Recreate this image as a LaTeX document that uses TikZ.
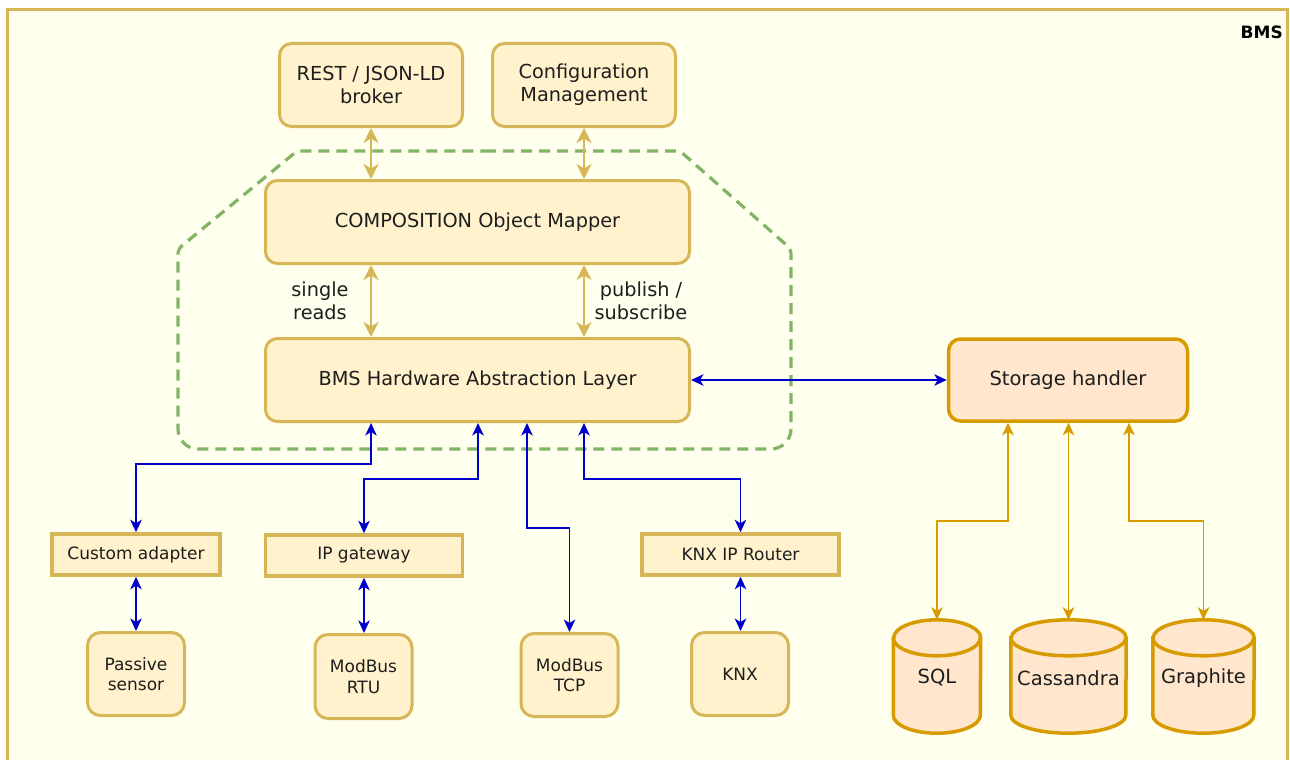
\documentclass[tikz,border=0pt]{standalone}
\usepackage{fontspec}
\setmainfont{DejaVu Sans}
\usetikzlibrary{arrows.meta}

\definecolor{bgpanel}{HTML}{FFFFEE}
\definecolor{ylfill}{HTML}{FFF2CC}
\definecolor{ylline}{HTML}{D6B656}
\definecolor{orfill}{HTML}{FFE6CC}
\definecolor{orline}{HTML}{D79B00}
\definecolor{grline}{HTML}{82B366}
\definecolor{blline}{HTML}{0000CC}
\definecolor{txt}{HTML}{1E1E1E}

\tikzset{
  base/.style={inner sep=0pt, align=center, text=txt},
  mainbox/.style={base, draw=ylline, fill=ylfill, line width=3pt, rounded corners=12pt,
    font=\fontsize{19.3}{23}\selectfont},
  devbox/.style={base, draw=ylline, fill=ylfill, line width=3pt, rounded corners=13pt,
    minimum width=97pt, minimum height=83pt, font=\fontsize{17}{20.5}\selectfont},
  adapter/.style={base, draw=ylline, fill=ylfill, line width=3.5pt,
    minimum height=41pt, font=\fontsize{17}{20.5}\selectfont},
  storebox/.style={base, draw=orline, fill=orfill, line width=3.5pt, rounded corners=12pt,
    font=\fontsize{19.5}{23}\selectfont},
  cylbox/.style={base, minimum height=113pt, font=\fontsize{19.5}{23}\selectfont},
  cylshape/.style={draw=orline, fill=orfill, line width=3.5pt},
  lbl/.style={base, font=\fontsize{19.3}{23}\selectfont},
  ylarrow/.style={draw=ylline, line width=2.8pt,
    {Stealth[length=15pt,width=15pt,inset=4.5pt]}-{Stealth[length=15pt,width=15pt,inset=4.5pt]}},
  blarrow/.style={draw=blline, line width=1.7pt,
    {Stealth[length=12.5pt,width=11.5pt,inset=3.5pt]}-{Stealth[length=12.5pt,width=11.5pt,inset=3.5pt]}},
  orarrow/.style={draw=orline, line width=1.7pt,
    {Stealth[length=12.5pt,width=11.5pt,inset=3.5pt]}-{Stealth[length=12.5pt,width=11.5pt,inset=3.5pt]}},
  groupline/.style={draw=grline, line width=3.2pt, dash pattern=on 11pt off 7pt},
}

% database cylinder drawn on the outline of a named node; #2 = half width
\newcommand\dbcylinder[2]{%
  \path[cylshape] ([yshift=-18pt]#1.north west)
    -- ([yshift=18pt]#1.south west)
    arc[start angle=180, end angle=360, x radius=#2, y radius=18pt]
    -- ([yshift=-18pt]#1.north east)
    arc[start angle=0, end angle=180, x radius=#2, y radius=18pt] -- cycle;
  \draw[draw=orline, line width=3.5pt] ([yshift=-18pt]#1.north west)
    arc[start angle=180, end angle=360, x radius=#2, y radius=18pt];
}

\begin{document}
\begin{tikzpicture}[x=1pt, y=-1pt]
\useasboundingbox (0,0) rectangle (1290,760);

% outer BMS panel
\fill[white] (0,0) rectangle (1290,760);
\fill[bgpanel] (7,10) rectangle (1287,760);
\draw[ylline, line width=3pt] (7,762) -- (7,10) -- (1287,10) -- (1287,762);
\node[anchor=east, inner sep=0pt, font=\bfseries\fontsize{17}{20}\selectfont, text=black]
  (title) at (1283,32) {BMS};

% upper layer
\node[mainbox, minimum width=183pt, minimum height=83pt] (rest) at (371,85) {REST / JSON-LD\\broker};
\node[mainbox, minimum width=183pt, minimum height=83pt] (conf) at (584,85) {Configuration\\Management};
\node[mainbox, minimum width=424pt, minimum height=83pt] (mapper) at (477.5,222) {COMPOSITION Object Mapper};
\node[mainbox, minimum width=424pt, minimum height=83pt] (hal) at (477.5,380) {BMS Hardware Abstraction Layer};
\node[storebox, minimum width=239pt, minimum height=82pt] (storage) at (1068,380) {Storage handler};

% field side
\node[adapter, minimum width=168pt] (cadapt) at (136,554.5) {Custom adapter};
\node[adapter, minimum width=197pt] (ipgw) at (364,555.5) {IP gateway};
\node[adapter, minimum width=197pt] (knxr) at (740.5,554.5) {KNX IP Router};
\node[devbox] (passive) at (136,674) {Passive\\sensor};
\node[devbox, minimum height=84pt] (rtu) at (363.5,676.5) {ModBus\\RTU};
\node[devbox] (tcp) at (569.5,675) {ModBus\\TCP};
\node[devbox] (knx) at (740,674) {KNX};

% databases
\node[cylbox, minimum width=87pt] (sql) at (937,676.5) {};
\node[cylbox, minimum width=115pt] (cass) at (1068.5,676.5) {};
\node[cylbox, minimum width=101pt] (graph) at (1203.5,676.5) {};
\dbcylinder{sql}{43.5pt}
\dbcylinder{cass}{57.5pt}
\dbcylinder{graph}{50.5pt}
\node[base, font=\fontsize{19.5}{23}\selectfont] (sqltext) at (937,678) {SQL};
\node[base, font=\fontsize{19.5}{23}\selectfont] (casstext) at (1068.5,678) {Cassandra};
\node[base, font=\fontsize{19.5}{23}\selectfont] (graphtext) at (1203.5,678) {Graphite};

% dashed group around the core layers
\draw[groupline, rounded corners=5pt] (480,151) -- (680,151) -- (791,249)
  [rounded corners=20pt] -- (791,449) -- (178,449)
  [rounded corners=5pt] -- (178,249) -- (297,151) -- cycle;

% mapper links
\draw[ylarrow] (rest.south) -- (rest.south |- mapper.north);
\draw[ylarrow] (conf.south) -- (conf.south |- mapper.north);
\draw[ylarrow] (rest.south |- mapper.south) -- (rest.south |- hal.north);
\draw[ylarrow] (conf.south |- mapper.south) -- (conf.south |- hal.north);
\node[lbl] (singlereads) at (320,301) {single\\reads};
\node[lbl] (pubsub) at (641,301) {publish /\\subscribe};

% hardware links
\draw[blarrow] ([xshift=-106.5pt]hal.south) -- ++(0,41) -| (cadapt.north);
\draw[blarrow] ([xshift=0.5pt]hal.south) -- ++(0,56) -| (ipgw.north);
\draw[blarrow] ([xshift=49.5pt]hal.south) -- ++(0,105) -| (tcp.north);
\draw[blarrow] ([xshift=106.5pt]hal.south) -- ++(0,56) -| (knxr.north);
\draw[blarrow] (cadapt.south) -- (passive.north);
\draw[blarrow] (ipgw.south) -- (ipgw.south |- rtu.north);
\draw[blarrow] (knxr.south) -- (knxr.south |- knx.north);
\draw[blarrow] (hal.east) -- (storage.west);

% storage links
\draw[orarrow] ([xshift=-60pt]storage.south) -- ++(0,98) -| (sql.north);
\draw[orarrow] ([xshift=0.5pt]storage.south) -- (cass.north);
\draw[orarrow] ([xshift=61pt]storage.south) -- ++(0,98) -| (graph.north);
\end{tikzpicture}
\end{document}
